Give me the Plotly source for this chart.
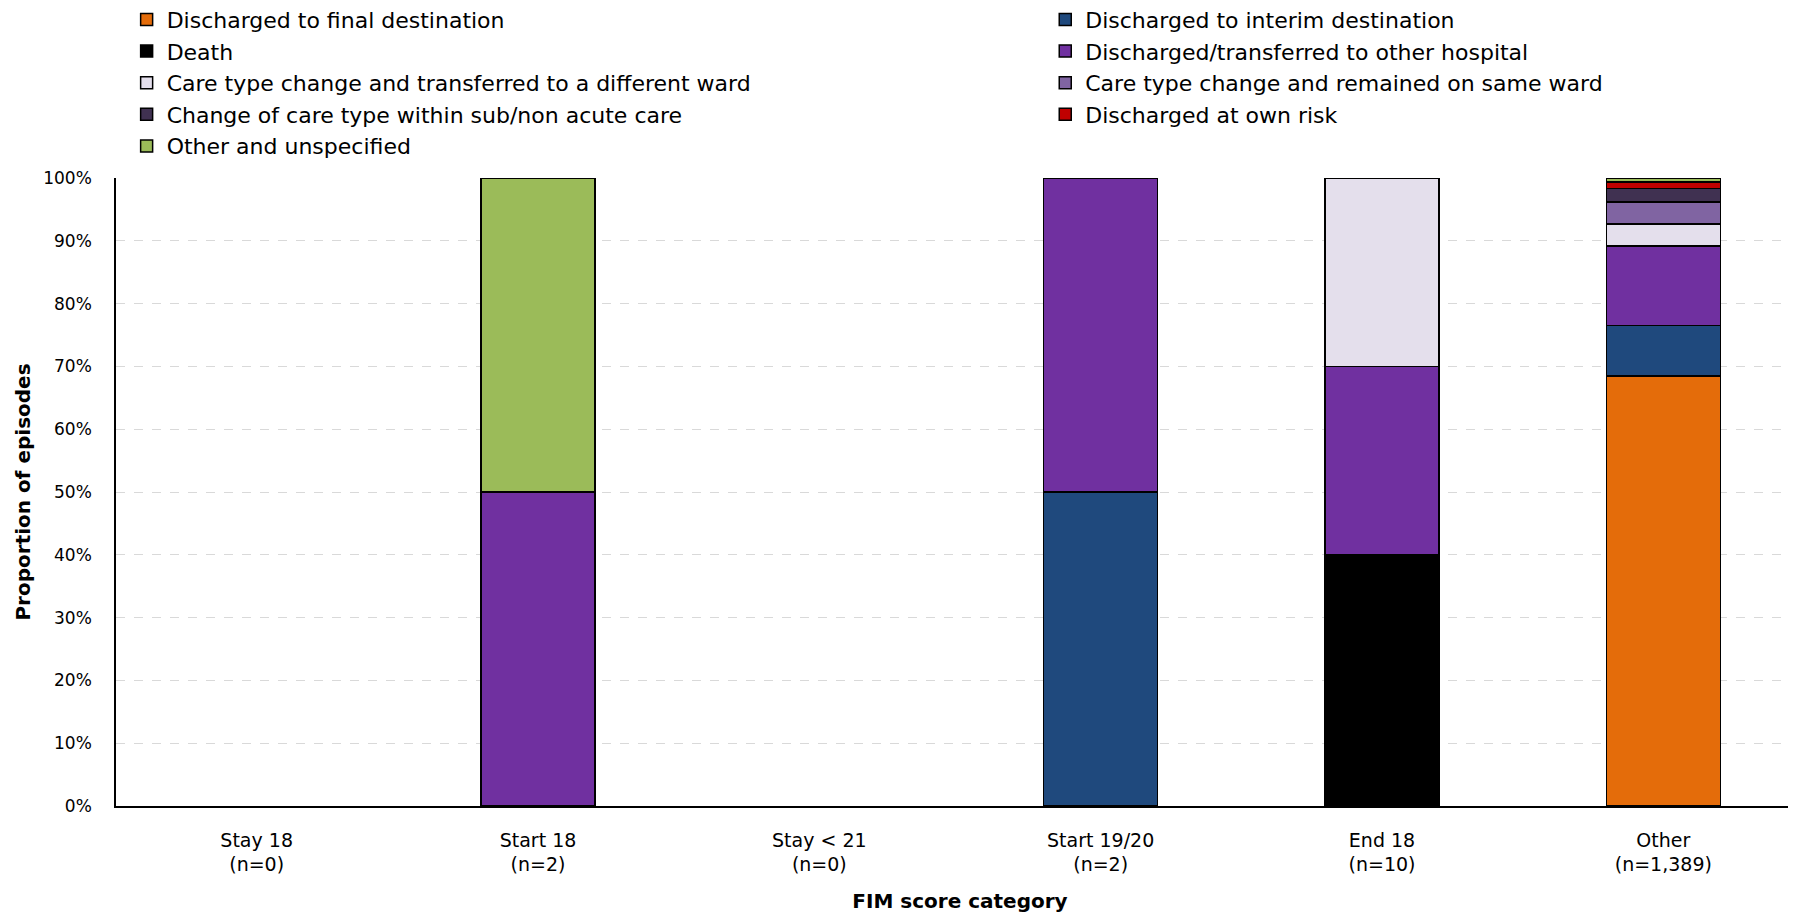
import plotly.graph_objects as go

categories = ["Stay 18<br>(n=0)", "Start 18<br>(n=2)", "Stay < 21<br>(n=0)",
              "Start 19/20<br>(n=2)", "End 18<br>(n=10)", "Other<br>(n=1,389)"]

series_names = [
    "Discharged to final destination",
    "Discharged to interim destination",
    "Death",
    "Discharged/transferred to other hospital",
    "Care type change and transferred to a different ward",
    "Care type change and remained on same ward",
    "Change of care type within sub/non acute care",
    "Discharged at own risk",
    "Other and unspecified",
]

final_dest   = [None, None, None, None, None, 0.685]
interim_dest = [None, None, None, 0.50, None, 0.080]
death        = [None, None, None, None, 0.40, None]
other_hosp   = [None, 0.50, None, 0.50, 0.30, 0.127]
diff_ward    = [None, None, None, None, 0.30, 0.035]
same_ward    = [None, None, None, None, None, 0.035]
sub_acute    = [None, None, None, None, None, 0.021]
own_risk     = [None, None, None, None, None, 0.011]
other_unspec = [None, 0.50, None, None, None, 0.006]

series_values = [final_dest, interim_dest, death, other_hosp, diff_ward,
                 same_ward, sub_acute, own_risk, other_unspec]

colors = ["#E46C0A", "#1F497D", "#000000", "#7030A0", "#E4DFEC",
          "#8064A2", "#403151", "#C00000", "#9BBB59"]

y_ticks = [0, 0.1, 0.2, 0.3, 0.4, 0.5, 0.6, 0.7, 0.8, 0.9, 1.0]

FONT = "DejaVu Sans"

fig = go.Figure()
for i, (name, vals, col) in enumerate(zip(series_names, series_values, colors)):
    fig.add_trace(go.Bar(
        x=categories, y=vals, name=name,
        legend="legend" if i % 2 == 0 else "legend2",
        marker=dict(color=col, line=dict(color="#000000", width=1.5)),
    ))

legend_common = dict(
    orientation="v",
    yref="paper", yanchor="top", y=1.2855,
    xanchor="left",
    font=dict(family=FONT, size=22, color="#000000"),
    itemwidth=30,
    traceorder="normal",
    bgcolor="rgba(0,0,0,0)",
    borderwidth=0,
)

fig.update_layout(
    barmode="stack",
    bargap=0.595,
    width=1796, height=912,
    margin=dict(l=108, r=0, t=170, b=114, autoexpand=False),
    paper_bgcolor="white", plot_bgcolor="white",
    font=dict(family=FONT, size=19, color="#000000"),
    legend=dict(legend_common, x=0.0063),
    legend2=dict(legend_common, x=0.5505),
    showlegend=True,
)

fig.update_xaxes(
    showline=True, linecolor="#000000", linewidth=1.5,
    showgrid=False, ticks="", tickfont=dict(size=19),
    ticklabelstandoff=16,
    title=dict(text="<b>FIM score category</b>", font=dict(size=20), standoff=20),
    range=[-0.5, 5.5],
)
fig.update_yaxes(
    range=[0, 1.0], tickvals=y_ticks, tickformat=".0%",
    showline=True, linecolor="#000000", linewidth=1.5,
    showgrid=True, gridcolor="#D9D9D9", griddash="dash", gridwidth=1,
    zeroline=False, tickfont=dict(size=17), ticklabelstandoff=19,
    title=dict(text="<b>Proportion of episodes</b>", font=dict(size=20), standoff=7),
)

fig.write_html("out.html")
